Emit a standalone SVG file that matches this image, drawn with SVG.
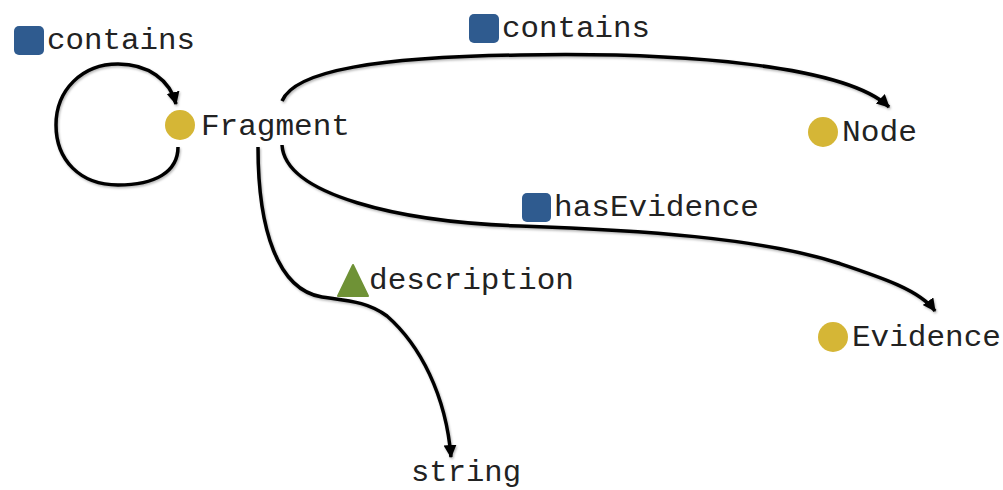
<svg xmlns="http://www.w3.org/2000/svg" width="1003" height="490" viewBox="0 0 1003 490">
<style>
.lbl{font-family:"Liberation Mono","Courier New",monospace;font-size:30px;fill:#222}
.edge{fill:none;stroke:#000;stroke-width:3.5;marker-end:url(#ah)}
.cls{fill:#D5B636}
.prop{fill:#2F5B8F}
.dtp{fill:#6F9236}
</style>
<defs>
<marker id="ah" markerUnits="userSpaceOnUse" markerWidth="15" markerHeight="15" refX="12" refY="6.5" orient="auto">
<path d="M0,0 L13,6.5 L0,13 Z" fill="#000"/>
</marker>
<filter id="sh" x="-10%" y="-10%" width="120%" height="120%">
<feDropShadow dx="1" dy="1.5" stdDeviation="1.2" flood-color="#000" flood-opacity="0.3"/>
</filter>
</defs>
<g id="connectors" filter="url(#sh)">
<path class="edge" d="M178,147 C178,172 155,185 118,185 C80,185 56,160 56,125 C56,90 82,64 118,64 C148,64 170,80 176,104"/>
<path class="edge" d="M282,101 C295,70 380,57 520,55 C680,52 845,65 889,107"/>
<path class="edge" d="M282,145 C285,195 400,222 520,226 C640,230 760,238 838,263 C880,277 920,290 935,311"/>
<path class="edge" d="M258,147 C258,230 278,290 322,297 C350,301 368,302 387,316 C420,345 446,395 451,457"/>
</g>
<g id="node-Fragment">
<circle class="cls" cx="180" cy="125" r="15"/>
<text class="lbl" x="201" y="135" textLength="149" lengthAdjust="spacingAndGlyphs">Fragment</text>
</g>
<g id="node-Node">
<circle class="cls" cx="823" cy="132" r="15"/>
<text class="lbl" x="842" y="141" textLength="75" lengthAdjust="spacingAndGlyphs">Node</text>
</g>
<g id="node-Evidence">
<circle class="cls" cx="833" cy="337" r="15"/>
<text class="lbl" x="852" y="346" textLength="149" lengthAdjust="spacingAndGlyphs">Evidence</text>
</g>
<g id="node-string">
<text class="lbl" x="411" y="481" textLength="110" lengthAdjust="spacingAndGlyphs">string</text>
</g>
<g id="label-contains-self">
<rect class="prop" x="14" y="26" width="30" height="29" rx="5"/>
<text class="lbl" x="47" y="49" textLength="148" lengthAdjust="spacingAndGlyphs">contains</text>
</g>
<g id="label-contains-node">
<rect class="prop" x="469" y="14" width="30" height="29" rx="5"/>
<text class="lbl" x="502" y="37" textLength="148" lengthAdjust="spacingAndGlyphs">contains</text>
</g>
<g id="label-hasEvidence">
<rect class="prop" x="522" y="193" width="29" height="29" rx="5"/>
<text class="lbl" x="554" y="216" textLength="205" lengthAdjust="spacingAndGlyphs">hasEvidence</text>
</g>
<g id="label-description">
<path class="dtp" d="M353,265 L368,296 L338,296 Z" stroke="#6F9236" stroke-width="2" stroke-linejoin="round"/>
<text class="lbl" x="369" y="289" textLength="205" lengthAdjust="spacingAndGlyphs">description</text>
</g>
</svg>
